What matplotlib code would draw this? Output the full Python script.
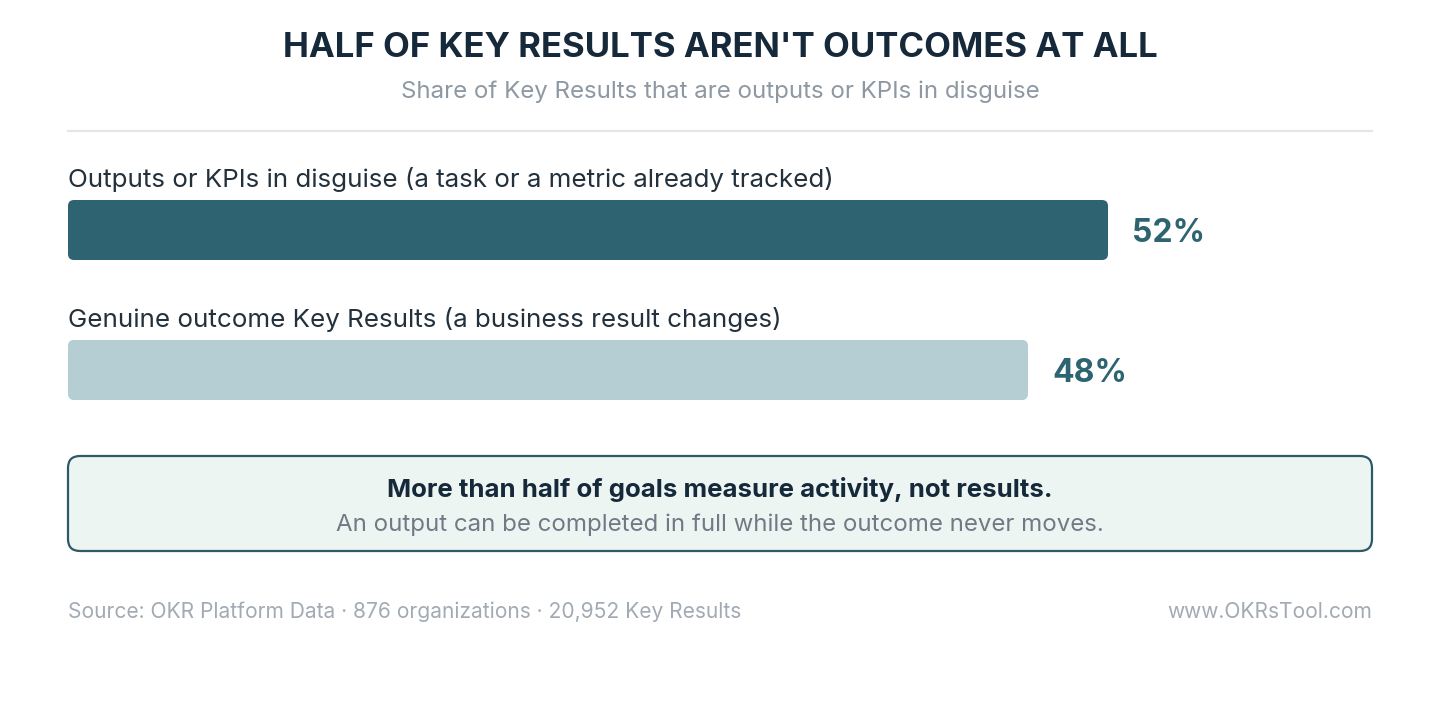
import matplotlib.pyplot as plt
from matplotlib.patches import FancyBboxPatch

plt.rcParams['font.family'] = ['Inter', 'DejaVu Sans']

labels = ["Outputs or KPIs in disguise (a task or a metric already tracked)",
          "Genuine outcome Key Results (a business result changes)"]
values = [52, 48]
colors = ["#2e6472", "#b5ced4"]

fig = plt.figure(figsize=(14.4, 7.2), dpi=100)
ax = fig.add_axes([0, 0, 1, 1])
ax.set_xlim(0, 1440)
ax.set_ylim(720, 0)
ax.axis("off")

ax.text(720, 48, "HALF OF KEY RESULTS AREN'T OUTCOMES AT ALL", ha="center", va="center",
        fontsize=25, fontweight="bold", color="#16293a")
ax.text(720, 92, "Share of Key Results that are outputs or KPIs in disguise", ha="center",
        va="center", fontsize=17.3, color="#8d98a3")
ax.plot([68, 1372], [131, 131], color="#e3e6e9", lw=1.5)

x0 = 68
scale = 20  # px per percent
for i, (lab, v, c) in enumerate(zip(labels, values, colors)):
    top = 200 + i * 140
    ax.text(x0, top - 21, lab, ha="left", va="center", fontsize=18.7, color="#23313d")
    w = v * scale
    ax.add_patch(FancyBboxPatch((x0, top), w, 60, boxstyle="round,pad=0,rounding_size=6",
                                fc=c, ec="none"))
    ax.text(x0 + w + 24, top + 33, f"{v}%", ha="left", va="center", fontsize=23,
            fontweight="bold", color="#2e6472")

ax.add_patch(FancyBboxPatch((68, 456), 1304, 95, boxstyle="round,pad=0,rounding_size=12",
                            fc="#edf5f2", ec="#2e5a66", lw=1.6))
ax.text(720, 489, "More than half of goals measure activity, not results.", ha="center",
        va="center", fontsize=18.6, fontweight="bold", color="#16293a")
ax.text(720, 525, "An output can be completed in full while the outcome never moves.",
        ha="center", va="center", fontsize=17.3, color="#6f7a84")

ax.text(68, 612, "Source: OKR Platform Data · 876 organizations · 20,952 Key Results",
        ha="left", va="center", fontsize=15.1, color="#a2abb3")
ax.text(1372, 612, "www.OKRsTool.com", ha="right", va="center", fontsize=15.1, color="#a2abb3")

fig.savefig("out.png", dpi=100)
